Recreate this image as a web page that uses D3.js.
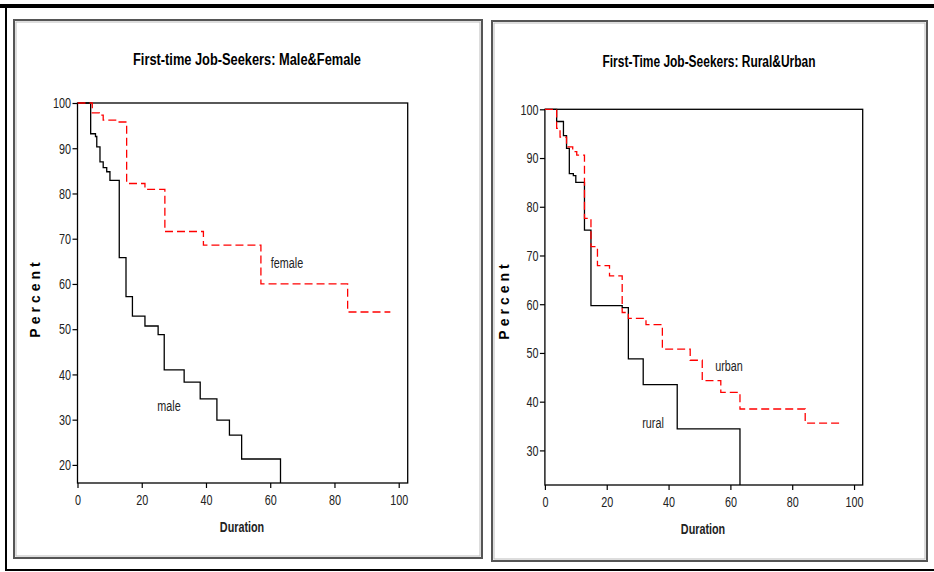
<!DOCTYPE html>
<html>
<head>
<meta charset="utf-8">
<script src="https://cdn.jsdelivr.net/npm/d3@7/dist/d3.min.js"></script>
<style>
  body { margin: 0; background: #fff; }
  svg text { font-family: "Liberation Sans Narrow", "Liberation Sans", Arial, sans-serif; }
</style>
</head>
<body>
<div id="chart"></div>
<script>
// Survival steps (time, percent)
var maleTime = [0, 4.1, 5.6, 6.0, 7.0, 8.0, 9.1, 10.1, 13.0, 15.1, 17.1, 21.0, 25.1, 27.0, 33.2, 38.2, 43.4, 47.3, 51.1, 63.2];
var maleVal  = [100, 93.2, 92.6, 90.3, 87.0, 85.7, 84.8, 82.9, 65.8, 57.2, 52.9, 50.7, 48.8, 41.0, 38.3, 34.6, 29.9, 26.6, 21.3, 0];

var femaleTime = [0, 4.6, 6.8, 8.0, 12.7, 15.3, 21.0, 27.2, 39.2, 57.1, 84.1, 97.4];
var femaleVal  = [100, 97.8, 97.3, 96.2, 95.8, 82.2, 80.9, 71.6, 68.6, 60.0, 53.8, 53.8];

var ruralTime = [0, 3.8, 6.0, 7.0, 7.9, 9.2, 10.0, 12.8, 14.9, 25.0, 27.0, 31.8, 42.8, 63.1];
var ruralVal  = [100, 97.5, 94.6, 92.0, 86.8, 86.4, 85.0, 75.2, 59.7, 59.3, 48.8, 43.5, 34.4, 0];

var urbanTime = [0, 3.8, 4.9, 7.0, 9.0, 10.3, 12.8, 14.9, 17.0, 20.9, 25.0, 27.0, 32.7, 38.0, 47.0, 50.9, 56.9, 63.1, 84.2, 96.4];
var urbanVal  = [100, 96.1, 94.3, 92.3, 91.3, 90.6, 77.6, 71.8, 67.9, 65.8, 58.3, 57.1, 55.8, 50.8, 48.5, 44.3, 41.9, 38.5, 35.6, 35.6];

var xTicks = [0, 20, 40, 60, 80, 100];
var yTicksLeft = [20, 30, 40, 50, 60, 70, 80, 90, 100];
var yTicksRight = [30, 40, 50, 60, 70, 80, 90, 100];

var narrow = 0.72; // horizontal squeeze to mimic the condensed font

var svg = d3.select("#chart").append("svg")
  .attr("width", 934)
  .attr("height", 572);

// outer frame
svg.append("rect").attr("x", 0).attr("y", 4).attr("width", 934).attr("height", 4).attr("fill", "#000");
svg.append("rect").attr("x", 5).attr("y", 4).attr("width", 2).attr("height", 567).attr("fill", "#000");
svg.append("rect").attr("x", 5).attr("y", 569).attr("width", 929).attr("height", 2).attr("fill", "#000");

function panelBox(x0, y0, x1, y1) {
  svg.append("rect").attr("x", x0).attr("y", y0).attr("width", x1 - x0).attr("height", y1 - y0)
    .attr("fill", "none").attr("stroke", "#555").attr("stroke-width", 2);
  svg.append("rect").attr("x", x0 + 2).attr("y", y0 + 2).attr("width", x1 - x0 - 4).attr("height", y1 - y0 - 4)
    .attr("fill", "none").attr("stroke", "#bbb").attr("stroke-width", 1);
}
panelBox(14, 20, 482, 558);
panelBox(492, 21, 927, 561);

function narrowText(x, y, str, size, weight) {
  return svg.append("text")
    .attr("transform", "translate(" + x + "," + y + ") scale(" + narrow + ",1)")
    .attr("text-anchor", "middle")
    .style("font-size", size + "px")
    .style("font-weight", weight || "normal")
    .attr("fill", "#222")
    .text(str);
}

var panels = [
  {
    id: "p1", left: 77.5, right: 407.7, top: 103, bottom: 483,
    yDomain: [16.0, 100], yTicks: yTicksLeft,
    title: "First-time Job-Seekers: Male&Female", titleX: 247, titleY: 65, titleW: 228,
    ylabX: 40, ylabY: 298, xlabX: 242, xlabY: 532,
    series: [
      { t: maleTime, v: maleVal, color: "#000", dash: null, label: "male", lx: 169, ly: 411 },
      { t: femaleTime, v: femaleVal, color: "#ff0000", dash: "8,4", label: "female", lx: 287, ly: 268 }
    ]
  },
  {
    id: "p2", left: 544.9, right: 862.7, top: 109.3, bottom: 485,
    yDomain: [22.9, 100], yTicks: yTicksRight,
    title: "First-Time Job-Seekers: Rural&Urban", titleX: 709, titleY: 67, titleW: 213,
    ylabX: 509, ylabY: 300, xlabX: 703, xlabY: 534,
    series: [
      { t: ruralTime, v: ruralVal, color: "#000", dash: null, label: "rural", lx: 653, ly: 428 },
      { t: urbanTime, v: urbanVal, color: "#ff0000", dash: "8,4", label: "urban", lx: 729, ly: 371 }
    ]
  }
];

panels.forEach(function (p) {
  var x = d3.scaleLinear().domain([0, 102.8]).range([p.left, p.right]);
  var y = d3.scaleLinear().domain(p.yDomain).range([p.bottom, p.top]);

  svg.append("clipPath").attr("id", "clip-" + p.id)
    .append("rect")
    .attr("x", p.left).attr("y", p.top - 2)
    .attr("width", p.right - p.left).attr("height", p.bottom - p.top + 2);

  // plot frame
  svg.append("rect")
    .attr("x", p.left).attr("y", p.top)
    .attr("width", p.right - p.left).attr("height", p.bottom - p.top)
    .attr("fill", "none").attr("stroke", "#000").attr("stroke-width", 1.3);

  var xAxis = svg.append("g")
    .attr("transform", "translate(0," + p.bottom + ")")
    .call(d3.axisBottom(x).tickValues(xTicks).tickSize(5).tickSizeOuter(0));
  var yAxis = svg.append("g")
    .attr("transform", "translate(" + p.left + ",0)")
    .call(d3.axisLeft(y).tickValues(p.yTicks).tickSize(5).tickSizeOuter(0));

  [xAxis, yAxis].forEach(function (a) {
    a.select(".domain").remove();
    a.selectAll("line").attr("stroke", "#000").attr("stroke-width", 1.2);
    a.selectAll("text")
      .attr("fill", "#222")
      .attr("transform", "scale(" + narrow + ",1)")
      .style("font-size", "15px")
      .style("font-family", "'Liberation Sans', sans-serif");
  });
  xAxis.selectAll("text").attr("dy", "0.95em");
  yAxis.selectAll("text").attr("x", -6.5 / narrow);

  var line = d3.line()
    .x(function (d) { return x(d[0]); })
    .y(function (d) { return y(d[1]); })
    .curve(d3.curveStepAfter);

  p.series.forEach(function (s) {
    var pts = s.t.map(function (t, i) { return [t, s.v[i]]; });
    svg.append("path")
      .attr("d", line(pts))
      .attr("clip-path", "url(#clip-" + p.id + ")")
      .attr("fill", "none")
      .attr("stroke", s.color)
      .attr("stroke-width", 1.3)
      .attr("stroke-dasharray", s.dash);

    narrowText(s.lx, s.ly, s.label, 15);
  });

  svg.append("text")
    .attr("x", p.titleX).attr("y", p.titleY)
    .attr("text-anchor", "middle")
    .attr("textLength", p.titleW)
    .attr("lengthAdjust", "spacingAndGlyphs")
    .style("font-size", "16px")
    .style("font-weight", "bold")
    .text(p.title);

  narrowText(p.xlabX, p.xlabY, "Duration", 15, "bold");

  svg.append("text")
    .attr("transform", "translate(" + p.ylabX + "," + p.ylabY + ") rotate(-90)")
    .attr("text-anchor", "middle")
    .style("font-size", "14px")
    .style("font-weight", "bold")
    .style("letter-spacing", "4px")
    .text("Percent");
});
</script>
</body>
</html>
